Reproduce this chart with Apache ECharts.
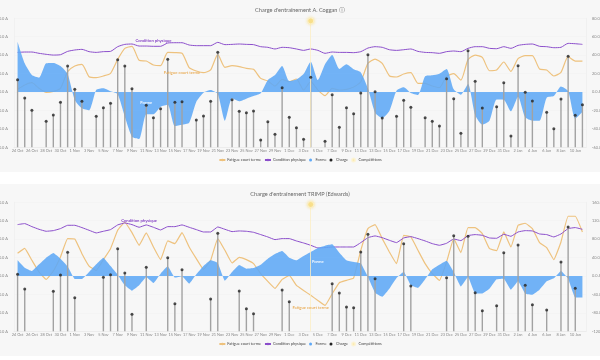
<!DOCTYPE html>
<html>
<head>
<meta charset="utf-8">
<style>
  html, body { margin: 0; padding: 0; background: #fff; }
  .panel { position: absolute; left: 0; width: 600px; height: 172px; background: #f7f7f7; }
</style>
<script src="https://cdn.jsdelivr.net/npm/echarts@6/dist/echarts.min.js"></script>
</head>
<body>
<div id="chart1" class="panel" style="top:0"></div>
<div id="chart2" class="panel" style="top:184px"></div>
<script>
var days = ['24 Oct','25 Oct','26 Oct','27 Oct','28 Oct','29 Oct','30 Oct','31 Oct',
  '1 Nov','2 Nov','3 Nov','4 Nov','5 Nov','6 Nov','7 Nov','8 Nov','9 Nov','10 Nov','11 Nov','12 Nov','13 Nov','14 Nov','15 Nov','16 Nov','17 Nov','18 Nov','19 Nov','20 Nov','21 Nov','22 Nov','23 Nov','24 Nov','25 Nov','26 Nov','27 Nov','28 Nov','29 Nov','30 Nov',
  '1 Dec','2 Dec','3 Dec','4 Dec','5 Dec','6 Dec','7 Dec','8 Dec','9 Dec','10 Dec','11 Dec','12 Dec','13 Dec','14 Dec','15 Dec','16 Dec','17 Dec','18 Dec','19 Dec','20 Dec','21 Dec','22 Dec','23 Dec','24 Dec','25 Dec','26 Dec','27 Dec','28 Dec','29 Dec','30 Dec','31 Dec',
  '1 Jan','2 Jan','3 Jan','4 Jan','5 Jan','6 Jan','7 Jan','8 Jan','9 Jan','10 Jan','11 Jan'];

// Coggan
var fatigueA = [2.9,7.6,10.1,4.0,-0.4,0.7,4.0,22.1,28.2,30.0,16.6,15.6,17.4,20.3,35.4,47.4,49.6,34.4,33.6,29.3,28.6,43.0,42.7,42.0,26.4,22.8,21.0,23.9,40.9,26.8,28.6,27.5,25.7,24.6,14.8,11.9,6.5,13.7,11.2,14.1,
  2.2,11.2,2.2,-4.0,4.0,2.2,2.9,5.4,11.2,31.1,35.8,31.1,17.7,16.3,19.5,21.0,9.4,9.4,6.5,4.7,17.0,19.9,13.0,35.1,40.1,37.6,23.1,23.9,32.6,22.4,36.2,39.4,39.4,25.0,23.9,17.4,21.3,38.3,33.6,33.6];
var fitnessA = [43.0,43.4,43.4,42.0,40.9,40.1,40.5,44.1,45.6,46.3,43.8,43.0,43.8,44.1,49.2,51.7,52.1,49.9,49.9,49.6,49.6,53.2,53.5,53.5,51.0,50.3,50.3,50.3,53.9,51.4,51.7,52.1,51.7,51.4,49.2,48.5,46.7,48.5,48.1,46.7,
  45.2,46.7,45.2,42.0,43.4,43.0,43.0,42.7,43.8,47.7,49.2,48.5,45.9,45.2,45.9,46.7,44.1,43.0,42.7,42.0,43.8,44.5,43.8,47.4,49.2,49.2,47.4,47.0,49.2,47.4,50.6,51.7,52.1,49.6,49.2,48.1,48.5,52.8,52.4,51.7];
var formA = [54.6,31.1,18.4,15.6,31.1,31.5,28.2,19.5,-8.7,-17.7,-19.9,2.2,4.0,0.7,-2.5,-26.8,-48.5,-51.0,-24.2,-24.2,-15.9,-13.7,-36.9,-35.4,-33.3,-10.5,-0.7,2.2,-2.2,-31.1,-6.9,-10.1,-7.2,-4.3,-1.4,13.0,18.4,28.2,11.9,13.7,
  19.5,32.9,13.0,30.0,40.1,25.0,30.0,24.6,21.3,4.0,-22.4,-28.2,-20.6,1.4,5.1,-1.1,-3.3,17.0,18.1,19.9,25.0,2.9,-2.9,8.7,-25.0,-35.4,-31.1,-8.0,-8.3,-21.0,-5.1,-27.5,-31.1,-31.1,-6.1,-4.3,6.1,1.1,-28.9,-21.7];
var chargeA = [183.5,133.8,100.3,null,70.5,87.7,122,220.6,157.3,124.8,null,84.1,107.6,119.3,237.8,220.6,159.1,null,113.9,80.5,104.9,238.7,122,123.8,null,74.1,85,124.8,257.6,null,129.3,97.6,94,98.5,19.9,69.6,35.3,161.8,81.4,53.3,
  21.7,189.8,null,16.3,142.8,54.2,107.6,91.3,147.4,251.3,151,79.6,null,84.1,127.5,108.5,null,80.5,70.5,57.9,186.2,132,38,262.2,179,106.7,null,110.3,175.4,30.7,221.5,149.2,125.7,null,94.9,50.6,131.1,246.8,86.8,115.7];

// TRIMP
var fatigueB = [49.3,60.1,34.1,8.7,-7.2,10.9,41.3,81.2,80.4,48.5,21.7,12.3,35.5,59.4,99.3,116.7,94.2,66.7,93.5,63.0,35.5,76.1,70.3,94.2,63.0,37.7,14.5,34.1,81.2,55.8,28.3,40.6,35.5,26.8,5.1,-11.6,-26.8,-7.2,1.4,-20.3,
  -31.2,-42.0,-52.9,-63.8,-38.4,-14.5,-9.4,-4.3,55.8,102.9,111.6,81.2,52.2,26.8,88.4,84.8,55.8,26.8,5.1,-9.4,30.4,81.2,50.7,105.1,105.1,92.0,59.4,55.1,95.6,63.0,110.1,114.5,102.9,72.5,61.6,35.5,73.9,129.7,129.7,95.6];
var fitnessB = [111.6,113.8,107.2,101.4,97.1,98.5,102.9,110.1,110.1,105.1,99.3,93.5,97.1,100.7,110.9,115.2,111.6,105.8,110.9,105.8,100.0,107.2,107.2,110.9,105.8,100.7,95.6,95.6,106.5,101.4,96.4,97.8,97.1,94.9,89.9,84.8,79.0,81.2,81.2,76.1,
  71.7,66.7,60.9,61.6,63.0,63.0,63.0,63.0,72.5,83.3,87.0,83.3,77.5,72.5,82.6,85.5,81.2,76.1,70.3,66.7,71.0,80.4,76.8,87.7,89.9,88.4,82.6,81.9,90.6,86.2,95.6,98.5,97.8,91.3,89.9,84.8,91.3,102.9,105.1,101.4];
var formB = [34.1,18.1,10.9,25.4,39.9,50.0,37.7,21.0,-6.5,-6.5,8.7,25.4,39.9,21.7,2.9,-20.3,-31.9,-20.3,-2.2,-15.2,5.1,21.0,-3.6,-0.7,-16.7,3.6,21.7,34.1,28.3,-10.1,8.7,23.9,15.9,17.4,24.6,37.7,47.8,54.3,39.9,34.1,
  43.5,52.2,60.9,65.9,68.8,50.7,34.1,30.4,27.5,-2.2,-36.2,-44.9,-27.5,-4.3,9.4,-20.3,-26.1,-7.2,14.5,24.6,33.3,8.7,-22.5,-2.2,-37.7,-37.7,-27.5,-7.2,-5.8,-29.7,-11.6,-38.4,-40.6,-29.7,-11.6,-5.1,10.9,-5.8,-46.4,-46.4];
var chargeB = [154.6,114.8,null,null,null,108.5,152.8,214.2,91.3,null,null,null,146.4,153.7,224.2,158.2,46.1,null,173.6,null,null,199.8,75,167.2,null,null,null,87.7,265.8,null,null,109.4,61.5,47.9,null,null,null,112.1,80.5,null,
  null,null,null,null,129.3,104,66,64.2,215.2,263.1,142.8,null,null,null,237.8,122.9,null,null,null,null,145.5,259.4,null,257.6,104.9,56,null,69.6,213.3,null,234.1,124.8,72.3,null,57.9,null,188,283,116.6,null];

var leftTicks = { min: 0, max: 350, step: 50 };
var rightTicksA = { min: -60, max: 80, step: 20 };
var rightTicksB = { min: -120, max: 160, step: 40 };

var compDayA = 41, compLevelA = 343;
var compDayB = 41, compLevelB = 344;

var FONT = 'Lato, "Open Sans", sans-serif';
var ORANGE = '#eec27e', PURPLE = '#8b4ecb', BLUE = '#5ea8f6', YELLOW = '#f8dd84';

function tag(text, i, v, color) {
  return {
    coord: [i, v], symbol: 'circle', symbolSize: 0,
    label: { show: true, position: 'inside', formatter: text, color: color, fontSize: 4.2, fontWeight: 600, fontFamily: FONT }
  };
}

function axisText(v) { return v.toFixed(1) + ' A'; }

function build(id, o) {
  var chart = echarts.init(document.getElementById(id));
  chart.setOption({
    animation: false,
    backgroundColor: 'transparent',
    title: {
      text: o.title, left: 'center', top: o.titleTop, padding: 0,
      textStyle: { fontSize: 5.6, fontWeight: 'normal', color: '#666', fontFamily: FONT }
    },
    legend: {
      top: 157.5, left: 'center', padding: 0, itemWidth: 6, itemHeight: 3, itemGap: 3,
      textStyle: { fontSize: 3.9, color: '#444', fontFamily: FONT, padding: [0, 0, 0, -3] },
      data: [
        { name: 'Fatigue court terme' },
        { name: 'Condition physique' },
        { name: 'Forme', icon: 'circle', itemStyle: { color: BLUE } },
        { name: 'Charge', icon: 'circle', itemStyle: { color: '#222' } },
        { name: 'Compétitions', icon: 'circle', itemStyle: { color: YELLOW } }
      ]
    },
    grid: { left: 14, right: 14, top: 18.3, height: 129, outerBoundsMode: 'none' },
    xAxis: {
      type: 'category', data: days, boundaryGap: true,
      axisLine: { lineStyle: { color: '#e2e2e2', width: 0.5 } }, axisTick: { show: false },
      axisLabel: { interval: 1, hideOverlap: false, fontSize: 3.9, color: '#888', margin: 1.8, fontFamily: FONT }
    },
    yAxis: [
      {
        type: 'value', min: leftTicks.min, max: leftTicks.max, interval: leftTicks.step,
        axisLine: { show: true, lineStyle: { color: '#ebebeb', width: 0.5 } }, axisTick: { show: false },
        splitLine: { lineStyle: { color: '#f0f0f0', width: 0.5 } },
        axisLabel: { formatter: axisText, fontSize: 3.9, color: '#888', margin: 6, fontFamily: FONT }
      },
      {
        type: 'value', min: o.right.min, max: o.right.max, interval: o.right.step, position: 'right',
        axisLine: { show: true, lineStyle: { color: '#e8e8e8', width: 0.5 } }, axisTick: { show: false },
        splitLine: { show: false },
        axisLabel: { formatter: axisText, fontSize: 3.9, color: '#888', margin: 6, fontFamily: FONT }
      }
    ],
    series: [
      {
        name: 'Fatigue court terme', type: 'line', yAxisIndex: 1, data: o.fatigue, symbol: 'none', z: 2, smooth: o.smooth,
        lineStyle: { color: ORANGE, width: 1.2 }, itemStyle: { color: ORANGE },
        markPoint: { silent: true, data: [tag('Fatigue court terme', o.fatigueTag[0], o.fatigueTag[1], '#e9a94f')] }
      },
      {
        name: 'Condition physique', type: 'line', yAxisIndex: 1, data: o.fitness, symbol: 'none', z: 2, smooth: o.smooth,
        lineStyle: { color: PURPLE, width: 1 }, itemStyle: { color: PURPLE },
        markPoint: { silent: true, data: [tag('Condition physique', o.fitnessTag[0], o.fitnessTag[1], '#7a2fc0')] }
      },
      {
        name: 'Forme', type: 'line', yAxisIndex: 1, data: o.form, symbol: 'none', z: 3, smooth: o.smooth,
        lineStyle: { width: 0 }, itemStyle: { color: BLUE },
        areaStyle: { color: BLUE, opacity: 0.88, origin: 0 },
        markPoint: { silent: true, data: [tag('Forme', o.formTag[0], o.formTag[1], '#fff')] }
      },
      {
        name: 'Charge', type: 'bar', yAxisIndex: 0, data: o.charge, barWidth: 1.4, z: 4,
        itemStyle: { color: '#a2a2a2' }
      },
      {
        name: 'Charge', type: 'scatter', yAxisIndex: 0, data: o.charge, symbolSize: 3, z: 5,
        itemStyle: { color: '#222' }
      },
      {
        name: 'Compétitions', type: 'scatter', yAxisIndex: 0, z: 6,
        data: [[o.compDay, o.compLevel]], symbolSize: 6,
        itemStyle: { color: YELLOW, borderColor: '#fdf3cf', borderWidth: 1, shadowBlur: 3, shadowColor: '#f8dd84' },
        markLine: {
          silent: true, symbol: 'none', label: { show: false },
          lineStyle: { color: '#fbeec4', width: 0.8, type: 'solid' },
          data: [[{ coord: [o.compDay, o.compLevel] }, { coord: [o.compDay, 0] }]]
        }
      }
    ]
  });
  return chart;
}

build('chart1', {
  title: "Charge d'entraînement A. Coggan ⓘ", titleTop: 7.5, smooth: 0.2,
  fatigue: fatigueA, fitness: fitnessA, form: formA, charge: chargeA, right: rightTicksA,
  compDay: compDayA, compLevel: compLevelA,
  fitnessTag: [19, 55.4], fatigueTag: [23, 20.6], formTag: [18, -12]
});
build('chart2', {
  title: "Charge d'entraînement TRIMP (Edwards)", titleTop: 7, smooth: 0.1,
  fatigue: fatigueB, fitness: fitnessB, form: formB, charge: chargeB, right: rightTicksB,
  compDay: compDayB, compLevel: compLevelB,
  fitnessTag: [17, 120], fatigueTag: [41, -69], formTag: [42, 31]
});
</script>
</body>
</html>
